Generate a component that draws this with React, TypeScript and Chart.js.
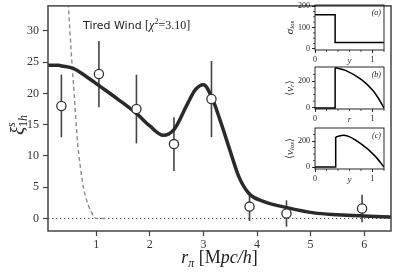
import React, { useEffect, useRef } from 'react';
import { Chart, registerables } from 'chart.js';
Chart.register(...registerables);

// ---------- main panel data ----------
const PT_X = [0.35, 1.05, 1.75, 2.45, 3.15, 3.86, 4.55, 5.96];
const PT_Y = [18.0, 23.1, 17.5, 11.9, 19.1, 1.9, 0.8, 1.6];
const PT_ERR = [5.0, 5.3, 5.5, 4.3, 6.1, 2.3, 2.1, 2.2];

const CURVE_X = [0.1, 0.3, 0.36, 0.57, 0.8, 1.06, 1.4, 1.75, 2.0, 2.25, 2.45, 2.7, 2.85, 3.0, 3.15, 3.32, 3.51, 3.66, 3.85, 4.13, 4.58, 5.06, 5.5, 6.0, 6.5];
const CURVE_Y = [24.5, 24.5, 24.4, 24.0, 22.8, 21.2, 19.1, 16.8, 14.8, 13.3, 14.2, 18.3, 20.6, 21.4, 19.5, 15.5, 10.5, 6.7, 4.0, 2.7, 1.7, 0.9, 0.6, 0.4, 0.25];

const DASH_X = [0.44, 0.48, 0.53, 0.59, 0.65, 0.7, 0.76, 0.85, 0.96, 1.0, 1.2];
const DASH_Y = [40, 34, 27, 19.7, 12.3, 8.5, 5.0, 2.2, 0.3, 0, 0];

const X_MIN = 0.1, X_MAX = 6.5, Y_MIN = -2, Y_MAX = 34;
const X_TICKS = [1, 2, 3, 4, 5, 6];
const Y_TICKS = [0, 5, 10, 15, 20, 25, 30];
const ZERO_LEVEL = 0;

// ---------- inset data ----------
const A_X = [0, 0.35, 0.35, 1.2];
const A_Y = [160, 160, 30, 30];

const B_STEP_X = [0, 0.35, 0.35];
const B_STEP_Y = [0, 0, 300];
const B_CURVE_X = [0.35, 0.53, 0.82, 1.0, 1.1, 1.2];
const B_CURVE_Y = [300, 280, 207, 133, 74, 0];

const C_STEP_X = [0, 0.36, 0.36];
const C_STEP_Y = [0, 0, 231];
const C_CURVE_X = [0.36, 0.5, 0.82, 1.05, 1.2];
const C_CURVE_Y = [231, 244, 172, 82, 0];

const INSET_X_TICKS = [0, 1];
const INSET_X_MINOR = [0.2, 0.4, 0.6, 0.8, 1.2];
const A_Y_TICKS = [0, 100, 200];
const A_Y_MINOR = [25, 50, 75, 125, 150, 175];
const BC_Y_TICKS = [0, 200];
const BC_Y_MINOR = [50, 100, 150, 250];

const SERIF = '"Liberation Serif", "DejaVu Serif", serif';
const SANS = '"DejaVu Sans", sans-serif';

type Seg = { t: string; font: string; dy?: number; adv?: boolean };

function segsWidth(ctx: CanvasRenderingContext2D, segs: Seg[]) {
  let w = 0;
  for (const s of segs) {
    ctx.font = s.font;
    if (s.adv !== false) w += ctx.measureText(s.t).width;
  }
  return w;
}
function drawSegs(ctx: CanvasRenderingContext2D, segs: Seg[], x: number, y: number, align: 'left' | 'center') {
  const total = segsWidth(ctx, segs);
  let cx = align === 'center' ? x - total / 2 : x;
  for (const s of segs) {
    ctx.font = s.font;
    ctx.fillText(s.t, cx, y + (s.dy || 0));
    if (s.adv !== false) cx += ctx.measureText(s.t).width;
  }
}

const pts = (xs: number[], ys: number[]) => xs.map((x, i) => ({ x, y: ys[i] }));

const errorBars = {
  id: 'errbars',
  beforeDatasetsDraw(chart: any) {
    const { ctx, scales, chartArea } = chart;
    const x = scales.x, y = scales.y;
    ctx.save();
    ctx.beginPath();
    ctx.rect(chartArea.left, chartArea.top, chartArea.right - chartArea.left, chartArea.bottom - chartArea.top);
    ctx.clip();
    ctx.strokeStyle = '#444';
    ctx.lineWidth = 1.6;
    PT_X.forEach((xv, i) => {
      const px = x.getPixelForValue(xv);
      ctx.beginPath();
      ctx.moveTo(px, y.getPixelForValue(PT_Y[i] - PT_ERR[i]));
      ctx.lineTo(px, y.getPixelForValue(PT_Y[i] + PT_ERR[i]));
      ctx.stroke();
    });
    ctx.restore();
  },
};

const mainDecor = {
  id: 'mainDecor',
  afterDraw(chart: any) {
    const { ctx, chartArea } = chart;
    ctx.save();
    ctx.strokeStyle = '#444';
    ctx.lineWidth = 1.5;
    ctx.strokeRect(chartArea.left, chartArea.top, chartArea.right - chartArea.left, chartArea.bottom - chartArea.top);
    ctx.fillStyle = '#222';
    ctx.textBaseline = 'alphabetic';
    // annotation
    drawSegs(ctx, [
      { t: 'Tired Wind ', font: `11px ${SANS}` },
      { t: '[', font: `12px ${SERIF}` },
      { t: 'χ', font: `italic 12px ${SERIF}` },
      { t: '2', font: `8px ${SERIF}`, dy: -5 },
      { t: '=3.10]', font: `12px ${SERIF}` },
    ], 83, 29, 'left');
    // x title
    const cx = (chartArea.left + chartArea.right) / 2;
    drawSegs(ctx, [
      { t: 'r', font: `italic 18px ${SERIF}` },
      { t: 'π', font: `italic 12px ${SERIF}`, dy: 4 },
      { t: ' [M', font: `18px ${SERIF}` },
      { t: 'pc/h', font: `italic 18px ${SERIF}` },
      { t: ']', font: `18px ${SERIF}` },
    ], cx, 263, 'center');
    // y title
    ctx.translate(23, 125);
    ctx.rotate(-Math.PI / 2);
    drawSegs(ctx, [
      { t: 'ξ', font: `italic 19px ${SERIF}` },
      { t: 's', font: `italic 12px ${SERIF}`, dy: -8, adv: false },
      { t: '1', font: `12px ${SERIF}`, dy: 4 },
      { t: 'h', font: `italic 12px ${SERIF}`, dy: 4 },
    ], 0, 0, 'center');
    ctx.restore();
  },
};

function mainConfig(): any {
  return {
    type: 'scatter',
    data: {
      datasets: [
        {
          data: pts(PT_X, PT_Y), pointRadius: 4.6, pointBackgroundColor: '#fff',
          pointBorderColor: '#333', pointBorderWidth: 1.3, showLine: false,
        },
        {
          type: 'line', data: pts(CURVE_X, CURVE_Y), borderColor: '#2a2a2a', borderWidth: 3.5,
          pointRadius: 0, cubicInterpolationMode: 'monotone', fill: false,
        },
        {
          type: 'line', data: pts(DASH_X, DASH_Y), borderColor: '#8c8c8c', borderWidth: 1.4,
          borderDash: [4, 3], pointRadius: 0, cubicInterpolationMode: 'monotone', fill: false,
        },
        {
          type: 'line', data: [{ x: X_MIN, y: ZERO_LEVEL }, { x: X_MAX, y: ZERO_LEVEL }],
          borderColor: '#555', borderWidth: 1.2, borderDash: [1.3, 2.7], pointRadius: 0, fill: false,
        },
      ],
    },
    options: {
      responsive: false, animation: false, devicePixelRatio: 1, events: [],
      layout: { padding: { left: 0, top: 2, right: 8, bottom: 0 } },
      plugins: { legend: { display: false }, tooltip: { enabled: false } },
      scales: {
        x: {
          type: 'linear', min: X_MIN, max: X_MAX,
          afterBuildTicks: (s: any) => { s.ticks = X_TICKS.map((v) => ({ value: v })); },
          afterFit: (s: any) => { s.height = 41; s.paddingLeft = 0; s.paddingRight = 0; s.paddingTop = 0; s.paddingBottom = 0; },
          grid: { display: true, drawOnChartArea: false, drawTicks: true, tickLength: 5, tickColor: '#444', tickWidth: 1.2 },
          border: { display: false },
          ticks: { font: { family: SERIF, size: 12 }, color: '#333', padding: 2, maxRotation: 0, autoSkip: false },
        },
        y: {
          type: 'linear', min: Y_MIN, max: Y_MAX,
          afterBuildTicks: (s: any) => { s.ticks = Y_TICKS.map((v) => ({ value: v })); },
          afterFit: (s: any) => { s.width = 48; s.paddingLeft = 0; s.paddingRight = 0; s.paddingTop = 0; s.paddingBottom = 0; },
          grid: { display: true, drawOnChartArea: false, drawTicks: true, tickLength: 5, tickColor: '#444', tickWidth: 1.2 },
          border: { display: false },
          ticks: { font: { family: SERIF, size: 12 }, color: '#333', padding: 4, autoSkip: false },
        },
      },
    },
    plugins: [errorBars, mainDecor],
  };
}

// ---------- insets ----------
const INSET_LEFT = 276;
const INSET_L = 315, INSET_R = 384;
const Y_AXIS_W = INSET_L - INSET_LEFT;
const X_AXIS_H = 22;
const PAD_T = 6, PAD_R = 6;

type InsetDef = {
  t: number; b: number; yMin: number; yMax: number; yTicks: number[]; yMinor: number[];
  datasets: any[]; yTitle: Seg[]; xTitle: string; tag: string;
};

const INSETS: InsetDef[] = [
  {
    t: 5, b: 50, yMin: -5, yMax: 205, yTicks: A_Y_TICKS, yMinor: A_Y_MINOR,
    datasets: [{ data: pts(A_X, A_Y), tension: 0 }],
    yTitle: [
      { t: 'σ', font: `italic 11px ${SERIF}` },
      { t: 'los', font: `italic 7px ${SERIF}`, dy: 2 },
    ],
    xTitle: 'y', tag: '(a)',
  },
  {
    t: 67, b: 109, yMin: -8, yMax: 305, yTicks: BC_Y_TICKS, yMinor: BC_Y_MINOR,
    datasets: [
      { data: pts(B_STEP_X, B_STEP_Y), tension: 0 },
      { data: pts(B_CURVE_X, B_CURVE_Y), cubicInterpolationMode: 'monotone' },
    ],
    yTitle: [
      { t: '⟨', font: `10px "DejaVu Serif", serif` },
      { t: 'v', font: `italic 11px ${SERIF}` },
      { t: 'r', font: `italic 7px ${SERIF}`, dy: 2 },
      { t: '⟩', font: `10px "DejaVu Serif", serif` },
    ],
    xTitle: 'r', tag: '(b)',
  },
  {
    t: 128, b: 169, yMin: -15, yMax: 300, yTicks: BC_Y_TICKS, yMinor: BC_Y_MINOR,
    datasets: [
      { data: pts(C_STEP_X, C_STEP_Y), tension: 0 },
      { data: pts(C_CURVE_X, C_CURVE_Y), cubicInterpolationMode: 'monotone' },
    ],
    yTitle: [
      { t: '⟨', font: `10px "DejaVu Serif", serif` },
      { t: 'v', font: `italic 11px ${SERIF}` },
      { t: 'los', font: `italic 7px ${SERIF}`, dy: 2 },
      { t: '⟩', font: `10px "DejaVu Serif", serif` },
    ],
    xTitle: 'y', tag: '(c)',
  },
];

function insetCanvasRect(d: InsetDef) {
  const top = d.t - PAD_T;
  return { left: INSET_LEFT, top, width: INSET_R + PAD_R - INSET_LEFT, height: d.b + X_AXIS_H - top };
}

function insetConfig(d: InsetDef): any {
  const decor = {
    id: 'insetDecor',
    afterDraw(chart: any) {
      const { ctx, chartArea, scales } = chart;
      const { left, right, top, bottom } = chartArea;
      ctx.save();
      ctx.strokeStyle = '#111';
      ctx.lineWidth = 0.9;
      ctx.strokeRect(left, top, right - left, bottom - top);
      // minor ticks
      ctx.lineWidth = 0.7;
      ctx.beginPath();
      for (const v of INSET_X_MINOR) {
        const px = scales.x.getPixelForValue(v);
        if (px > right + 0.5) continue;
        ctx.moveTo(px, bottom); ctx.lineTo(px, bottom + 2);
      }
      for (const v of d.yMinor) {
        const py = scales.y.getPixelForValue(v);
        if (py < top - 0.5) continue;
        ctx.moveTo(left, py); ctx.lineTo(left - 2, py);
      }
      ctx.stroke();
      ctx.fillStyle = '#222';
      ctx.textBaseline = 'alphabetic';
      ctx.font = `italic 8px ${SERIF}`;
      ctx.textAlign = 'right';
      ctx.fillText(d.tag, right - 3, top + 10);
      ctx.textAlign = 'left';
      drawSegs(ctx, [{ t: d.xTitle, font: `italic 9px ${SERIF}` }], (left + right) / 2, bottom + 13, 'center');
      ctx.translate(14, (top + bottom) / 2);
      ctx.rotate(-Math.PI / 2);
      ctx.textBaseline = 'middle';
      drawSegs(ctx, d.yTitle, 0, 0, 'center');
      ctx.restore();
    },
  };
  return {
    type: 'line',
    data: {
      datasets: d.datasets.map((ds) => ({
        ...ds, borderColor: '#000', borderWidth: 1.5, pointRadius: 0, fill: false,
      })),
    },
    options: {
      responsive: false, animation: false, devicePixelRatio: 1, events: [],
      layout: { padding: { left: 0, top: PAD_T, right: PAD_R, bottom: 0 } },
      plugins: { legend: { display: false }, tooltip: { enabled: false } },
      scales: {
        x: {
          type: 'linear', min: 0, max: 1.2,
          afterBuildTicks: (s: any) => { s.ticks = INSET_X_TICKS.map((v) => ({ value: v })); },
          afterFit: (s: any) => { s.height = X_AXIS_H; s.paddingLeft = 0; s.paddingRight = 0; s.paddingTop = 0; s.paddingBottom = 0; },
          grid: { display: true, drawOnChartArea: false, drawTicks: true, tickLength: 3, tickColor: '#111', tickWidth: 0.9 },
          border: { display: false },
          ticks: { font: { family: SERIF, size: 8 }, color: '#222', padding: 2, maxRotation: 0, autoSkip: false },
        },
        y: {
          type: 'linear', min: d.yMin, max: d.yMax,
          afterBuildTicks: (s: any) => { s.ticks = d.yTicks.map((v) => ({ value: v })); },
          afterFit: (s: any) => { s.width = Y_AXIS_W; s.paddingLeft = 0; s.paddingRight = 0; s.paddingTop = 0; s.paddingBottom = 0; },
          grid: { display: true, drawOnChartArea: false, drawTicks: true, tickLength: 3, tickColor: '#111', tickWidth: 0.9 },
          border: { display: false },
          ticks: { font: { family: SERIF, size: 8 }, color: '#222', padding: 2, autoSkip: false },
        },
      },
    },
    plugins: [decor],
  };
}

export default function App() {
  const mainRef = useRef<HTMLCanvasElement>(null);
  const insetRefs = [useRef<HTMLCanvasElement>(null), useRef<HTMLCanvasElement>(null), useRef<HTMLCanvasElement>(null)];

  useEffect(() => {
    const charts: Chart[] = [];
    charts.push(new Chart(mainRef.current!, mainConfig()));
    INSETS.forEach((d, i) => {
      charts.push(new Chart(insetRefs[i].current!, insetConfig(d)));
    });
    return () => charts.forEach((c) => c.destroy());
  }, []);

  return (
    <div style={{ position: 'fixed', left: 0, top: 0, width: 399, height: 272, background: '#fff', overflow: 'hidden' }}>
      <canvas ref={mainRef} width={399} height={272}
        style={{ position: 'absolute', left: 0, top: 0, width: 399, height: 272 }} />
      {INSETS.map((d, i) => {
        const r = insetCanvasRect(d);
        return (
          <canvas key={i} ref={insetRefs[i]} width={r.width} height={r.height}
            style={{ position: 'absolute', left: r.left, top: r.top, width: r.width, height: r.height }} />
        );
      })}
    </div>
  );
}
